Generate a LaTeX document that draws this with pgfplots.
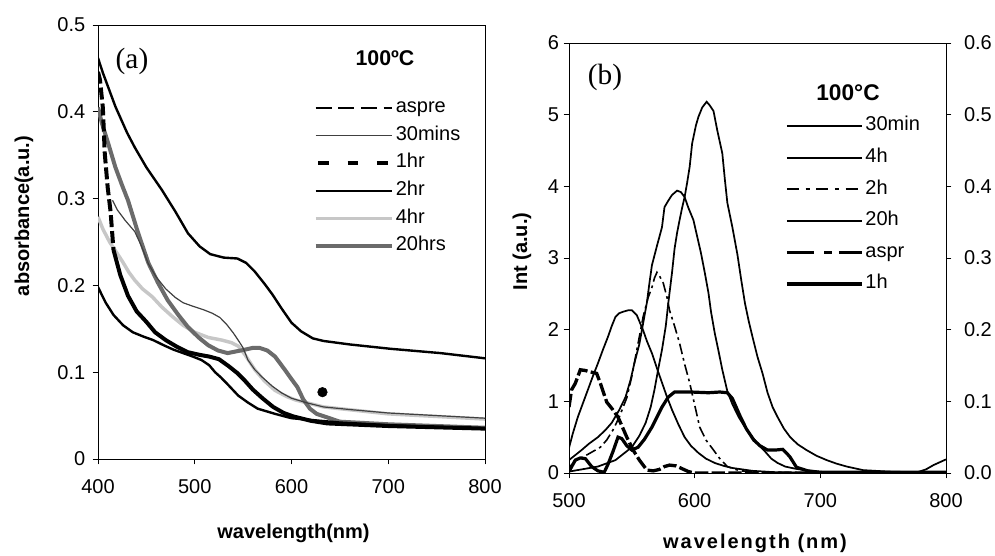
\documentclass[border=0pt]{standalone}
\usepackage{pgfplots}
\pgfplotsset{compat=1.18}
\usepackage{fontspec}
\setmainfont{Liberation Sans}
\newfontfamily\serifa{Liberation Serif}

\pgfplotsset{
  panel/.style={
    scale only axis, anchor=south west,
    axis line style={line width=0.6pt},
    tick align=outside, major tick length=4pt,
    tick style={line width=0.6pt, black},
    /pgf/number format/assume math mode=true,
    ticklabel style={font=\fontsize{15}{15}\selectfont},
    xticklabel style={yshift=-7.5pt},
    clip=true,
  },
  leg/.style={
    legend cell align=left,
    legend style={draw=none, fill=none, inner sep=0pt, outer sep=0pt,
      anchor=north west, font=\fontsize{15}{15}\selectfont,
      nodes={inner xsep=1.5pt, inner ysep=0pt, text height=10.8pt, text depth=3.6pt}},
  },
}

\begin{document}
\begin{tikzpicture}
\path[use as bounding box] (0,0) rectangle (746.25pt,417pt);

% ---------------- panel (a)
\begin{axis}[panel, leg,
    at={(73.5pt,72.75pt)}, width=290.25pt, height=325.5pt,
    xmin=400, xmax=800, ymin=0, ymax=0.5,
    xtick={400,500,...,800}, ytick={0,0.1,...,0.5},
    xtick pos=bottom, ytick pos=left,
    yticklabel style={xshift=-2pt},
    legend style={at={(0.556,0.832)}, row sep=6.4pt},
    legend image code/.code={\draw[#1] (0pt,0pt) -- (57pt,0pt);},
  ]
  % 4hr
  \addplot[forget plot, black!22, line width=2.6pt] coordinates {
    (400,0.279) (405,0.265) (412,0.250) (418,0.240) (425,0.228) (432,0.215)
    (438,0.206) (446,0.196) (456,0.187) (466,0.175) (477,0.164) (488,0.154)
    (500,0.146) (514,0.140) (528,0.137) (538,0.134) (545,0.130) (552,0.120)
    (562,0.103) (572,0.090) (583,0.079) (595,0.072) (604,0.068) (633,0.060)
    (700,0.052) (750,0.049) (800,0.046)};
  % 20hrs
  \addplot[forget plot, black!58, line width=3pt] coordinates {
    (400,0.405) (404,0.387) (411,0.362) (418,0.336) (425,0.315) (431,0.298)
    (441,0.262) (452,0.226) (462,0.203) (472,0.183) (483,0.166) (493,0.152)
    (504,0.140) (514,0.131) (524,0.125) (534,0.122) (543,0.124) (552,0.126)
    (560,0.128) (567,0.128) (575,0.125) (583,0.118) (593,0.103) (600,0.092)
    (606,0.083) (612,0.069) (619,0.058) (626,0.052) (650,0.043) (700,0.040)
    (750,0.038) (800,0.036)};
  % 30mins
  \addplot[forget plot, black!75, line width=0.9pt] coordinates {
    (415,0.298) (420,0.287) (428,0.275) (438,0.262) (445,0.245) (452,0.225)
    (460,0.210) (470,0.196) (480,0.186) (488,0.180) (498,0.176) (509,0.172)
    (518,0.168) (526,0.163) (533,0.155) (540,0.145) (546,0.135) (550,0.128)
    (555,0.114) (562,0.103) (570,0.094) (580,0.084) (590,0.076) (600,0.070)
    (615,0.065) (633,0.060) (660,0.057) (700,0.053) (750,0.050) (800,0.047)};
  % aspre
  \addplot[forget plot, black, line width=1.8pt] coordinates {
    (400,0.198) (408,0.180) (416,0.166) (426,0.154) (436,0.146) (447,0.141)
    (457,0.137) (468,0.131) (478,0.126) (488,0.122) (498,0.118) (507,0.114)
    (515,0.108) (521,0.100) (527,0.094) (534,0.086) (545,0.073) (555,0.065)
    (565,0.058) (583,0.052) (600,0.047) (650,0.042) (700,0.039) (800,0.035)};
  % 1hr, steep start (dashed there) and the rest
  \addplot[forget plot, black, line width=3pt, dash pattern=on 9pt off 3pt] coordinates {
    (400,0.446) (402,0.437) (405,0.405) (407,0.352) (410,0.313) (413,0.285)
    (416,0.241)};
  \addplot[forget plot, black, line width=3pt] coordinates {
    (416,0.241) (423,0.212) (431,0.188) (440,0.170) (450,0.158) (459,0.146)
    (470,0.137) (482,0.129) (493,0.123) (505,0.120) (515,0.118) (525,0.115)
    (535,0.107) (544,0.099) (552,0.090) (560,0.080) (570,0.070) (581,0.060)
    (592,0.053) (602,0.049) (620,0.044) (637,0.041) (700,0.038) (800,0.035)};
  % 2hr
  \addplot[forget plot, black, line width=1.8pt] coordinates {
    (400,0.462) (405,0.445) (418,0.406) (430,0.376) (438,0.359) (450,0.336)
    (466,0.310) (480,0.285) (493,0.260) (505,0.245) (516,0.236) (530,0.232)
    (544,0.231) (553,0.226) (562,0.216) (572,0.202) (580,0.190) (590,0.173)
    (600,0.157) (610,0.147) (622,0.139) (633,0.136) (660,0.132) (702,0.127)
    (754,0.122) (800,0.116)};
  % stray point
  \addplot[forget plot, only marks, mark=*, mark size=3.6pt, black] coordinates {(632,0.077)};

  \addlegendimage{black, line width=1.5pt, dash pattern=on 12pt off 5pt}
  \addlegendentry{aspre}
  \addlegendimage{black!75, line width=0.9pt}
  \addlegendentry{30mins}
  \addlegendimage{black, line width=3.5pt, dash pattern=on 8pt off 14pt, dash phase=-2pt}
  \addlegendentry{1hr}
  \addlegendimage{black, line width=1.8pt}
  \addlegendentry{2hr}
  \addlegendimage{black!22, line width=2.6pt}
  \addlegendentry{4hr}
  \addlegendimage{black!58, line width=3pt}
  \addlegendentry{20hrs}
\end{axis}

% ---------------- panel (b), left axis
\begin{axis}[panel, leg,
    at={(426.75pt,62.25pt)}, width=282.75pt, height=322.5pt,
    xmin=500, xmax=800, ymin=0, ymax=6,
    xtick={500,600,700,800}, ytick={0,1,...,6},
    xtick pos=bottom, ytick pos=left,
    legend style={at={(0.573,0.829)}, row sep=9.3pt},
    legend image code/.code={\draw[#1] (0pt,0pt) -- (56pt,0pt);},
  ]
  % 30min
  \addplot[forget plot, black, line width=1.3pt] coordinates {
    (500,0.02) (510,0.05) (523,0.09) (537,0.18) (550,0.36) (556,0.52) (561,0.70)
    (565,0.92) (568,1.16) (571,1.45) (574,1.72) (577,2.05) (579,2.37) (582,2.80)
    (584,3.13) (586,3.35) (588,3.53) (590,3.70) (592,3.85) (594,4.05) (596,4.27)
    (598,4.60) (601,4.85) (603,4.97) (606,5.10) (609.5,5.18) (612,5.13) (615,5.05)
    (618,4.78) (622,4.46) (624,4.10) (626,3.77) (630,3.43) (634,3.05) (637,2.70)
    (640,2.37) (643,2.12) (646,1.90) (650,1.62) (654,1.39) (658,1.12) (662,0.92)
    (666,0.78) (671,0.62) (676,0.50) (682,0.40) (689,0.32) (697,0.24) (705,0.18)
    (713,0.13) (721,0.09) (734,0.04) (754,0.02) (777,0.01) (784,0.05) (790,0.11)
    (795,0.15) (800,0.19)};
  % 4h
  \addplot[forget plot, black, line width=1.3pt] coordinates {
    (500,0.18) (510,0.32) (516,0.41) (523,0.50) (529,0.60) (534,0.70) (540,0.88)
    (545,1.06) (549,1.30) (552,1.53) (556,1.80) (559,2.09) (562,2.38) (564,2.65)
    (566,2.90) (570,3.17) (574,3.43) (576,3.71) (579,3.80) (582,3.88) (586,3.94)
    (589,3.92) (592,3.85) (595,3.70) (599,3.53) (602,3.30) (605,3.07) (608,2.80)
    (611,2.51) (613,2.25) (616,1.95) (619,1.70) (622,1.44) (626,1.14) (630,0.96)
    (635,0.78) (640,0.64) (646,0.50) (652,0.37) (656,0.30) (661,0.20) (666,0.14)
    (672,0.09) (680,0.06) (692,0.03) (705,0.01) (800,0.00)};
  % 2h
  \addplot[forget plot, black, line width=1.2pt, dash pattern=on 8pt off 3pt on 2pt off 3pt] coordinates {
    (500,0.08) (506,0.18) (515,0.26) (525,0.36) (530,0.46) (535,0.60) (540,0.78)
    (546,1.05) (550,1.35) (554,1.72) (559,2.18) (563,2.45) (566,2.59) (568,2.72)
    (570,2.80) (572,2.75) (575,2.65) (578,2.45) (580,2.27) (584,2.05) (588,1.81)
    (592,1.52) (596,1.26) (600,0.95) (604,0.64) (609,0.46) (615,0.32) (620,0.20)
    (626,0.09) (636,0.03) (660,0.01) (700,0.00) (800,0.00)};
  % 20h
  \addplot[forget plot, black, line width=1.3pt] coordinates {
    (500,0.35) (503,0.55) (507,0.78) (511,0.97) (515,1.16) (519,1.35) (523,1.53)
    (527,1.72) (531,1.90) (534,2.05) (537,2.18) (540,2.23) (543,2.25) (547,2.27)
    (550,2.27) (554,2.20) (559,1.99) (562,1.84) (566,1.67) (570,1.46) (574,1.26)
    (578,1.06) (582,0.88) (587,0.68) (592,0.50) (597,0.38) (603,0.28) (609,0.20)
    (616,0.14) (623,0.10) (630,0.07) (646,0.03) (665,0.01) (700,0.00) (800,0.00)};
  % aspr
  \addplot[forget plot, black, line width=2.5pt, dash pattern=on 10pt off 2.5pt] coordinates {
    (500,0.92) (502,1.16) (505,1.25) (509,1.44) (513,1.43) (517,1.41) (522,1.39)
    (525,1.25) (530,0.99) (535,0.88) (539,0.78) (542,0.66) (546,0.50) (551,0.32)
    (556,0.18) (562,0.04) (567,0.03) (572,0.05) (576,0.09) (580,0.11) (585,0.10)
    (590,0.06) (595,0.02) (600,0.00) (700,0.00) (800,0.00)};
  % 1h
  \addplot[forget plot, black, line width=2.4pt] coordinates {
    (500,0.02) (505,0.18) (509,0.21) (513,0.20) (518,0.09) (523,0.03) (528,0.01)
    (531,0.12) (535,0.30) (539,0.50) (542,0.48) (546,0.38) (550,0.32) (555,0.36)
    (560,0.47) (566,0.64) (570,0.78) (574,0.92) (579,1.06) (584,1.13) (597,1.13)
    (611,1.12) (620,1.13) (626,1.12) (630,1.04) (636,0.80) (641,0.62) (647,0.46)
    (652,0.38) (658,0.32) (664,0.32) (670,0.33) (673,0.28) (676,0.22) (681,0.08)
    (690,0.03) (700,0.01) (800,0.01)};

  \addlegendimage{black, line width=1.3pt}
  \addlegendentry{30min}
  \addlegendimage{black, line width=1.3pt}
  \addlegendentry{4h}
  \addlegendimage{black, line width=1.3pt, dash pattern=on 9pt off 5pt on 3pt off 5pt}
  \addlegendentry{2h}
  \addlegendimage{black, line width=1.3pt}
  \addlegendentry{20h}
  \addlegendimage{black, line width=2.8pt, dash pattern=on 20pt off 8pt on 6pt off 5pt}
  \addlegendentry{aspr}
  \addlegendimage{black, line width=2.8pt}
  \addlegendentry{1h}
\end{axis}

% ---------------- panel (b), right axis
\begin{axis}[panel,
    at={(426.75pt,62.25pt)}, width=282.75pt, height=322.5pt,
    xmin=500, xmax=800, ymin=0, ymax=0.6,
    axis x line=none, axis y line*=right,
    ytick={0,0.1,...,0.6}, ytick pos=right,
    yticklabel style={xshift=6pt, /pgf/number format/.cd, fixed, fixed zerofill, precision=1},
  ]
  \addplot[draw=none, forget plot] coordinates {(500,0) (800,0.6)};
\end{axis}

% ---------------- texts
\node[font=\serifa\fontsize{22}{22}\selectfont] at (99pt,371.25pt) {(a)};
\node[font=\bfseries\fontsize{16}{16}\selectfont] at (288.75pt,373.5pt) {100ºC};
\node[font=\serifa\fontsize{22}{22}\selectfont] at (453.75pt,359.25pt) {(b)};
\node[font=\bfseries\fontsize{17}{17}\selectfont] at (636pt,347.25pt) {100°C};
\node[font=\bfseries\fontsize{15}{15}\selectfont] at (220.1pt,17.25pt) {wavelength(nm)};
\node[font=\bfseries\fontsize{15}{15}\selectfont\addfontfeatures{LetterSpace=10}] at (566.25pt,9.75pt) {wavelength (nm)};
\node[font=\bfseries\fontsize{15}{15}\selectfont, rotate=90] at (18pt,255pt) {absorbance(a.u.)};
\node[font=\bfseries\fontsize{15}{15}\selectfont, rotate=90] at (391.5pt,228.4pt) {Int (a.u.)};
\end{tikzpicture}
\end{document}
